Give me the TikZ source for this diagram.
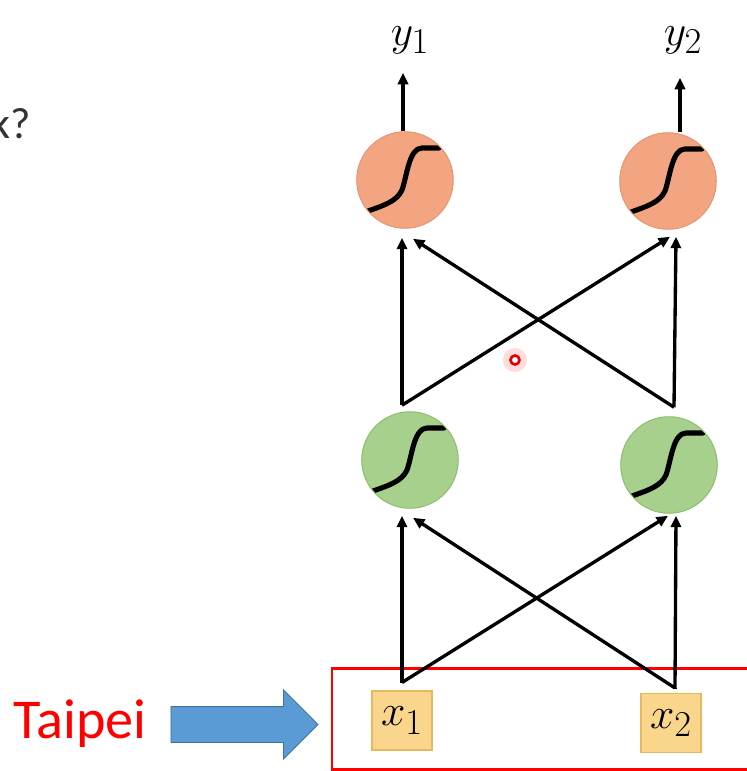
\documentclass[tikz,border=0pt]{standalone}
\usepackage{fontspec}
\setsansfont{Carlito}
\usetikzlibrary{arrows.meta,positioning,calc,shapes.arrows}
\definecolor{OutFill}{HTML}{F3A582}
\definecolor{OutEdge}{HTML}{E8946E}
\definecolor{HidFill}{HTML}{A8D08D}
\definecolor{HidEdge}{HTML}{8CBF6E}
\definecolor{InFill}{HTML}{F9D68C}
\definecolor{InEdge}{HTML}{E8B85E}
\definecolor{FrameRed}{HTML}{FF0000}
\definecolor{FeedBlue}{HTML}{5B9BD5}
\definecolor{FeedEdge}{HTML}{41719C}
\definecolor{SlideText}{HTML}{333333}

\begin{document}
\begin{tikzpicture}[
  x=0.02cm,y=-0.02cm,
  link/.style={
    -{Triangle[length=6.5pt,width=5.8pt]},
    line width=1.9pt,
    draw=black
  },
  neuron/.style={
    circle,
    minimum size=1.93cm,
    inner sep=0pt,
    line width=0.6pt,
    path picture={
      \draw[draw=black, line width=2.9pt, line cap=round, shift={(path picture bounding box.center)}]
        (-37,31) .. controls (-20,25) and (-8,21) .. (-3,10)
        .. controls (2,-4) and (4,-32) .. (17,-32) -- (34,-32);
    }
  },
  outnode/.style={neuron, fill=OutFill, draw=OutEdge},
  hidnode/.style={neuron, fill=HidFill, draw=HidEdge},
  inbox/.style={
    draw=InEdge,
    fill=InFill,
    line width=0.6pt,
    minimum width=1.2cm,
    minimum height=1.18cm,
    inner sep=0pt,
    font=\fontsize{32}{36}\selectfont
  },
  varlabel/.style={font=\fontsize{32}{36}\selectfont},
  feedarrow/.style={
    single arrow,
    single arrow head extend=0.33cm,
    minimum width=1.36cm,
    minimum height=2.94cm,
    inner xsep=0pt,
    inner ysep=0.35cm,
    fill=FeedBlue,
    draw=FeedEdge,
    line width=0.5pt
  }
]
\useasboundingbox (0,0) rectangle (747,771);

% -------------------------------------------------
% Slide text
% -------------------------------------------------
\node[anchor=base west, inner sep=0pt, text=SlideText,
  font=\sffamily\fontsize{25}{30}\selectfont] (question) at (-10,138) {k?};

\node[anchor=base, inner sep=0pt, text=FrameRed,
  font=\sffamily\fontsize{32}{38}\selectfont] (city) at (80,738) {Taipei};

\node[feedarrow] (feed) at (235.5,724.5) {};

% -------------------------------------------------
% Input layer
% -------------------------------------------------
\draw[draw=FrameRed, line width=1.7pt] (332,668) rectangle (765,769);

\node[inbox] (in1) at (402,720.5) {$x_1$};
\node[inbox] (in2) at (671,723) {$x_2$};

% -------------------------------------------------
% Hidden and output neurons
% -------------------------------------------------
\node[hidnode] (h1) at (410,460) {};
\node[hidnode] (h2) at (669,465) {};

\node[outnode] (o1) at (405,180) {};
\node[outnode] (o2) at (668,181) {};

\node[varlabel] (y1) at (410,40) {$y_1$};
\node[varlabel] (y2) at (683,40) {$y_2$};

% branch points
\coordinate (lowL) at ($(in1.north)+(0,-8)$);
\coordinate (lowR) at ($(in2.north)+(4,-5)$);
\coordinate (midL) at ($(h1.north)+(-8,-6)$);
\coordinate (midR) at ($(h2.north)+(5,-9)$);

% input -> hidden
\draw[link] (lowL) -- ($(h1.south)+(-8,7)$);
\draw[link] (lowL) -- ($(h2.south)+(-1,2)$);
\draw[link] (lowR) -- ($(h2.south)+(7,2)$);
\draw[link] (lowR) -- ($(h1.south)+(3,9)$);
\draw[line width=1.9pt, line join=round] (lowL) -- ++(0,1);
\draw[line width=1.9pt, line join=round] (lowR) -- ++(0,1);

% hidden -> output
\draw[link] (midL) -- ($(o1.south)+(-3,9)$);
\draw[link] (midL) -- ($(o2.south)+(2,7)$);
\draw[link] (midR) -- ($(o2.south)+(8,7)$);
\draw[link] (midR) -- ($(o1.south)+(8,10)$);

% output -> labels
\draw[link] ($(o1.north)+(-2,0)$) -- ($(y1.south)+(-7,13)$);
\draw[link] ($(o2.north)+(12,0)$) -- ($(y2.south)+(-3,18)$);

% pointer dot
\coordinate (pointer) at (515,360);
\fill[red!30, opacity=0.45] (pointer) circle (12);
\draw[red!90!black, line width=1.5pt, fill=white] (pointer) circle (4.5);

\end{tikzpicture}
\end{document}
